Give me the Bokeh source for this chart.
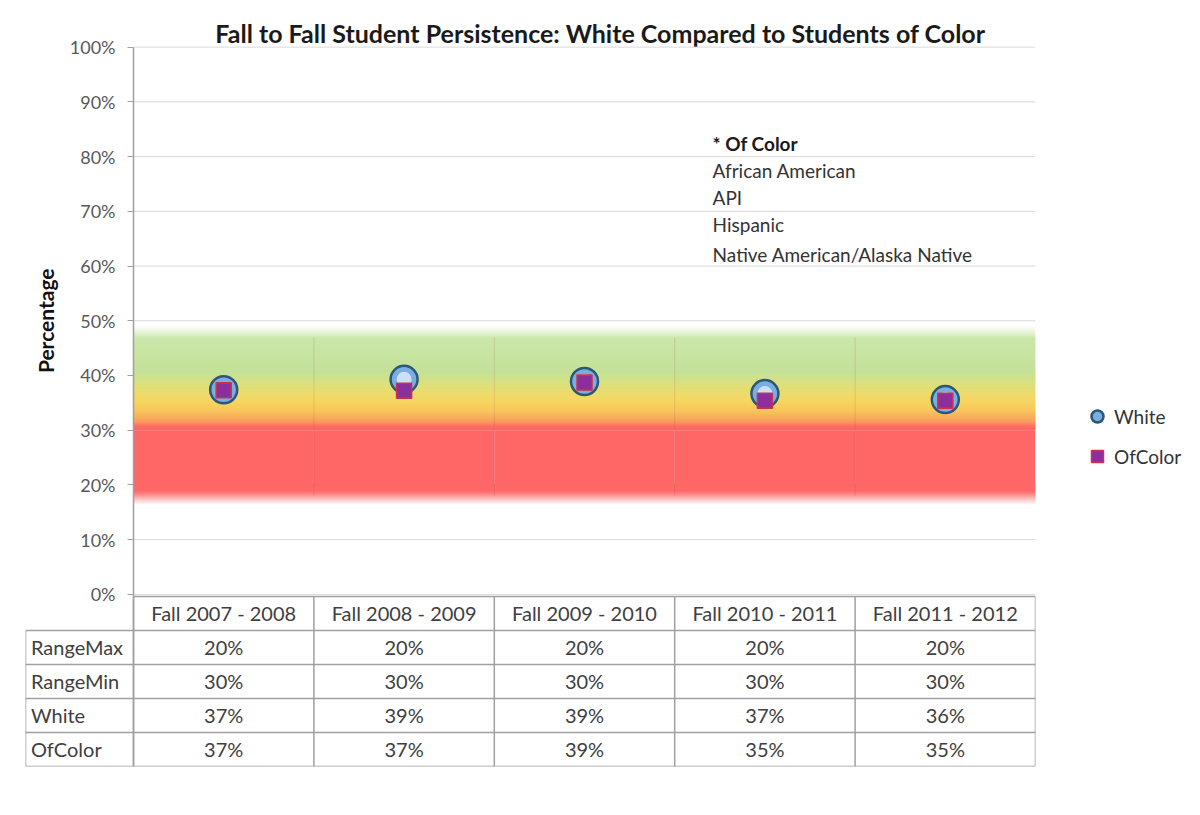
import numpy as np
from bokeh.plotting import figure
from bokeh.models import (FixedTicker, PrintfTickFormatter, Legend, LegendItem, Range1d, LinearAxis)
from bokeh.core.properties import value
from bokeh.embed import file_html
from bokeh.resources import INLINE

# ---------------- data ----------------
categories = ["Fall 2007 - 2008", "Fall 2008 - 2009", "Fall 2009 - 2010",
              "Fall 2010 - 2011", "Fall 2011 - 2012"]
range_max = [20, 20, 20, 20, 20]
range_min = [30, 30, 30, 30, 30]
white = [37.4, 39.3, 38.9, 36.7, 35.6]
of_color = [37.3, 37.2, 38.7, 35.4, 35.4]
y_ticks = [0, 10, 20, 30, 40, 50, 60, 70, 80, 90, 100]
row_names = ["RangeMax", "RangeMin", "White", "OfColor"]
note_title = "* Of Color"
note_lines = ["African American", "API", "Hispanic", "Native American/Alaska Native"]
title_text = "Fall to Fall Student Persistence: White Compared to Students of Color"

FONT = "Lato"
n = len(categories)
centers = [i + 0.5 for i in range(n)]

# ---------------- layout geometry ----------------
PX_PER_CAT = 180.4          # horizontal pixels per category
PX_PER_PCT = 5.47           # vertical pixels per percent
L = 108 / PX_PER_CAT        # width of the row-label column (in category units)
Y_BOTTOM = -172 / PX_PER_PCT  # bottom of the table (in percent units)
Y_TOP = 104.5
table_top = -2 / PX_PER_PCT
row_h = (table_top - Y_BOTTOM) / 5
FRAME_H = int(round((Y_TOP - Y_BOTTOM) * PX_PER_PCT))

p = figure(frame_width=1010, frame_height=FRAME_H, x_range=Range1d(-L, n),
           y_range=Range1d(Y_BOTTOM, Y_TOP),
           min_border_left=25, min_border_right=149, min_border_top=22, min_border_bottom=30,
           x_axis_location=None, y_axis_location=None, output_backend="svg", toolbar_location=None,
           outline_line_color=None)
p.grid.visible = False

# y axis fixed at x = 0
ax = LinearAxis(fixed_location=0, ticker=FixedTicker(ticks=y_ticks),
                formatter=PrintfTickFormatter(format="%d%%"), bounds=(Y_BOTTOM, 100))
ax.major_label_text_font = FONT
ax.major_label_text_font_size = "18px"
ax.major_label_text_color = "#595959"
ax.axis_line_color = "#a0a0a0"
ax.axis_line_width = 1.5
ax.major_tick_line_color = "#a0a0a0"
ax.major_tick_out = 6
ax.major_tick_in = 0
ax.minor_tick_line_color = None
ax.major_label_standoff = 12
p.add_layout(ax, "left")

# title
p.text(x=[(600 - 133) / PX_PER_CAT], y=[100 + 14 / PX_PER_PCT], text=[title_text],
       text_font=value(FONT), text_font_style="bold", text_font_size="25px",
       text_color="#1a1a1a", text_align="center", text_baseline="middle")

# horizontal gridlines over the chart area
p.segment(x0=0, x1=n, y0=y_ticks, y1=y_ticks, line_color="#d9d9d9", line_width=1)

# axis title
p.text(x=[-0.49], y=[50], text=["Percentage"], angle=np.pi / 2, text_font=value(FONT),
       text_font_style="bold", text_font_size="21px", text_color="#111111",
       text_align="center", text_baseline="middle")

# band gradient (style) around the data range
stops_below = [(-3.6, (255, 255, 255)), (-1.2, (255, 106, 106)), (0.0, (255, 102, 102))]
stops_above = [(0.0, (255, 102, 102)), (0.4, (255, 104, 100)), (1.5, (249, 160, 90)),
               (3.5, (248, 200, 92)), (5.5, (245, 216, 98)), (8.0, (222, 224, 122)),
               (10.5, (196, 225, 152)), (16.5, (202, 231, 170)), (18.8, (255, 255, 255))]

def interp(stops, v):
    for (a, ca), (b, cb) in zip(stops[:-1], stops[1:]):
        if a <= v <= b:
            f = (v - a) / (b - a)
            return tuple(int(round(ca[k] + (cb[k] - ca[k]) * f)) for k in range(3))
    return stops[-1][1]

def hexc(c):
    return "#%02x%02x%02x" % c

step = 0.2
lo = min(range_max)
hi = max(range_min)
bots, tops, cols = [], [], []
for s in np.arange(stops_below[0][0], 0, step):
    bots.append(lo + s); tops.append(lo + s + step * 2); cols.append(hexc(interp(stops_below, s + step / 2)))
for s in np.arange(0, stops_above[-1][0], step)[::-1]:
    bots.append(hi + s); tops.append(hi + s + step * 2); cols.append(hexc(interp(stops_above, s + step / 2)))
p.quad(left=0, right=n, bottom=bots, top=tops, fill_color=cols, line_color=None)
p.quad(left=[c - 0.5 for c in centers], right=[c + 0.5 for c in centers],
       bottom=range_max, top=range_min, fill_color="#ff6666", line_color=None)
p.segment(x0=list(range(1, n)), x1=list(range(1, n)), y0=lo - 2, y1=hi + 17,
          line_color="#9a4040", line_alpha=0.16, line_width=1)

# markers
rw = p.scatter(x=centers, y=white, marker="circle", size=27, fill_color="#7aaee0",
               line_color="#2c5877", line_width=2.5)
p.scatter(x=centers, y=white, marker="circle", size=15, fill_color="#d8e9f8",
          line_color=None, fill_alpha=0.85)
rc = p.scatter(x=centers, y=of_color, marker="square", size=15, fill_color="#8b2f9c",
               line_color="#d0304e", line_width=1.5)

# note text
note_x = 3.21
p.text(x=[note_x], y=[82.4], text=[note_title], text_font=value(FONT), text_font_style="bold",
       text_font_size="19px", text_color="#1a1a1a", text_baseline="middle", text_align="left")
p.text(x=[note_x] * len(note_lines),
       y=[77.5 - 4.95 * i - (0.6 if i == 3 else 0) for i in range(len(note_lines))],
       text=note_lines, text_font=value(FONT), text_font_size="19px", text_color="#333333",
       text_baseline="middle", text_align="left")

legend = Legend(items=[LegendItem(label="White", renderers=[rw]),
                       LegendItem(label="OfColor", renderers=[rc])],
                location=(47, 295), border_line_color=None, background_fill_alpha=0,
                label_text_font=FONT, label_text_font_size="19px", label_text_color="#333333",
                glyph_width=30, glyph_height=30, label_height=30, spacing=10,
                padding=0, margin=0, label_standoff=2)
p.add_layout(legend, "right")

# ---------------- table ----------------
gc = "#a0a0a0"
ylines = [table_top - row_h * k for k in range(6)]
p.segment(x0=[0] + [-L] * 5, x1=[n] * 6, y0=ylines, y1=ylines, line_color=gc, line_width=1.5)
xcols = [-L] + list(range(n + 1))
p.segment(x0=xcols, x1=xcols, y0=[Y_BOTTOM] * len(xcols),
          y1=[ylines[1]] + [table_top] * (n + 1), line_color=gc, line_width=1.5)
p.text(x=centers, y=[table_top - row_h / 2] * n, text=categories, text_font=value(FONT),
       text_font_size="20px", text_color="#404040", text_align="center", text_baseline="middle")
rows = [range_max, range_min, white, of_color]
for r, (name, vals) in enumerate(zip(row_names, rows)):
    yy = table_top - row_h * (r + 1.5)
    p.text(x=[-L + 0.03], y=[yy], text=[name], text_font=value(FONT), text_font_size="20px",
           text_color="#404040", text_align="left", text_baseline="middle")
    p.text(x=centers, y=[yy] * n, text=[f"{v:.0f}%" for v in vals], text_font=value(FONT),
           text_font_size="20px", text_color="#404040", text_align="center", text_baseline="middle")

open("out.html", "w").write(file_html(p, INLINE))
